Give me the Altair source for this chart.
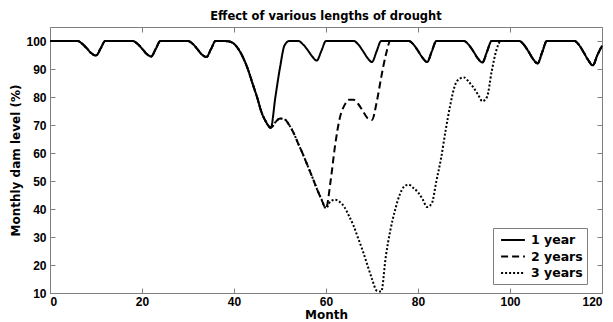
import altair as alt
import pandas as pd

# ---------------- data ----------------
series_names = ["1 year", "2 years", "3 years"]
x_ticks = [0, 20, 40, 60, 80, 100, 120]
y_ticks = [10, 20, 30, 40, 50, 60, 70, 80, 90, 100]

months = list(range(0, 121))

# 1-year drought, months 0..120
level_1yr = [
    100, 100, 100, 100, 100, 100, 100, 99, 97.4, 95.6, 94.8, 97.3,          # 0-11
    100, 100, 100, 100, 100, 100, 100, 99, 97.3, 95.4, 94.5, 97.2,          # 12-23
    100, 100, 100, 100, 100, 100, 100, 99, 97.2, 95.2, 94.3, 97.1,          # 24-35
    100, 100, 100, 99.8, 99, 97, 94, 90, 85, 80, 74.5, 71,                  # 36-47
    69, 80, 90.5, 98.5, 100, 100, 100, 98.8, 96.8, 94.5, 93, 96.5,          # 48-59
    100, 100, 100, 100, 100, 100, 100, 98.8, 96.5, 94, 92.5, 96.3,          # 60-71
    100, 100, 100, 100, 100, 100, 100, 98.8, 96.5, 94, 92.5, 96.3,          # 72-83
    100, 100, 100, 100, 100, 100, 100, 98.7, 96.4, 93.8, 92.3, 96.2,        # 84-95
    100, 100, 100, 100, 100, 100, 100, 98.7, 96.3, 93.6, 92, 96,            # 96-107
    100, 100, 100, 100, 100, 100, 100, 98.6, 96, 93.2, 91.3, 95,            # 108-119
    98.3,                                                                   # 120
]

# 2-year drought: departs from the 1-year curve at month 49, rejoins at 75
drought2_49_74 = [
    71, 72.3, 72, 70, 67, 63.2, 59.5, 55.5, 51.5, 47.3, 43.5,               # 49-59
    40.3, 50, 63, 72.5, 77, 79, 79, 77.5, 75, 72.5, 71.8, 78, 87, 95,       # 60-73
    100,                                                                    # 74
]

# 3-year drought: departs from the 2-year curve at month 61, rejoins at 99
drought3_61_98 = [
    42.8, 43.3, 42.5, 40.7, 37.5, 34, 29.5, 25, 20, 15, 10.9, 10.5,         # 61-72
    23, 32.5, 39.5, 45, 48, 48.7, 47.5, 46, 43.5, 40.7, 42, 50,             # 73-84
    58, 68, 77, 84, 86.5, 87, 85.5, 83.5, 81, 78.5, 80, 89, 96.5,           # 85-97
    100,                                                                    # 98
]

level_2yr = level_1yr[:49] + drought2_49_74 + level_1yr[75:]
level_3yr = level_2yr[:61] + drought3_61_98 + level_1yr[99:]

df = pd.concat([
    pd.DataFrame({"month": months, "level": level_1yr, "series": series_names[0]}),
    pd.DataFrame({"month": months, "level": level_2yr, "series": series_names[1]}),
    pd.DataFrame({"month": months, "level": level_3yr, "series": series_names[2]}),
])

NUM_FONT = "Liberation Sans"
TXT_FONT = "DejaVu Sans"
GRAY = "#808080"

x_scale = alt.Scale(domain=[0, 120], nice=False, zero=False)
y_scale = alt.Scale(domain=[10, 105], nice=False, zero=False)

base = alt.Chart(df)

lines = base.mark_line(interpolate="monotone", strokeWidth=2, color="black").encode(
    x=alt.X("month:Q", scale=x_scale,
            axis=alt.Axis(orient="bottom", values=x_ticks, offset=-5, tickSize=5,
                          domain=False, grid=False, tickColor=GRAY,
                          labelPadding=3, labelFont=NUM_FONT, labelFontSize=12,
                          labelFontWeight="bold", labelColor="black",
                          title="Month", titleFont=TXT_FONT, titleFontSize=12,
                          titleFontWeight="bold", titleColor="black", titlePadding=2)),
    y=alt.Y("level:Q", scale=y_scale,
            axis=alt.Axis(orient="left", values=y_ticks, offset=-5, tickSize=5,
                          domain=False, grid=False, tickColor=GRAY,
                          labelPadding=4, labelFont=NUM_FONT, labelFontSize=12,
                          labelFontWeight="bold", labelColor="black",
                          title="Monthly dam level (%)", titleFont=TXT_FONT, titleFontSize=12,
                          titleFontWeight="bold", titleColor="black", titlePadding=3)),
    strokeDash=alt.StrokeDash(
        "series:N",
        scale=alt.Scale(domain=series_names, range=[[1, 0], [7, 4], [2, 2]]),
        legend=alt.Legend(
            title=None, orient="none", legendX=443, legendY=201,
            symbolType="M-1.7,0H1.7", symbolSize=196, symbolStrokeWidth=2,
            symbolStrokeColor="black", symbolFillColor="transparent", symbolOffset=8,
            labelFont=TXT_FONT, labelFontSize=12.5, labelFontWeight="bold",
            labelColor="black", strokeColor=GRAY, fillColor="white",
            padding=4, rowPadding=1.5, labelOffset=10,
        ),
    ),
)

mirror = base.mark_line(opacity=0).encode(
    x=alt.X("month:Q", scale=x_scale,
            axis=alt.Axis(orient="top", values=x_ticks, offset=-5, tickSize=5,
                          domain=False, grid=False, labels=False, title=None,
                          tickColor=GRAY)),
    y=alt.Y("level:Q", scale=y_scale,
            axis=alt.Axis(orient="right", values=y_ticks, offset=-5, tickSize=5,
                          domain=False, grid=False, labels=False, title=None,
                          tickColor=GRAY)),
    detail="series:N",
)

chart = (
    alt.layer(lines, mirror)
    .resolve_axis(x="independent", y="independent")
    .properties(
        width=552, height=266,
        title=alt.Title("Effect of various lengths of drought", font=TXT_FONT, fontSize=11.5,
                        fontWeight="bold", color="black", anchor="middle", offset=4),
        autosize=alt.AutoSizeParams(type="none"),
        padding={"left": 42, "top": 19, "right": 3, "bottom": 30},
        background="white",
    )
    .configure_view(stroke=GRAY, strokeWidth=1)
)

chart.save("out.html", embed_options={"renderer": "svg", "actions": False})
